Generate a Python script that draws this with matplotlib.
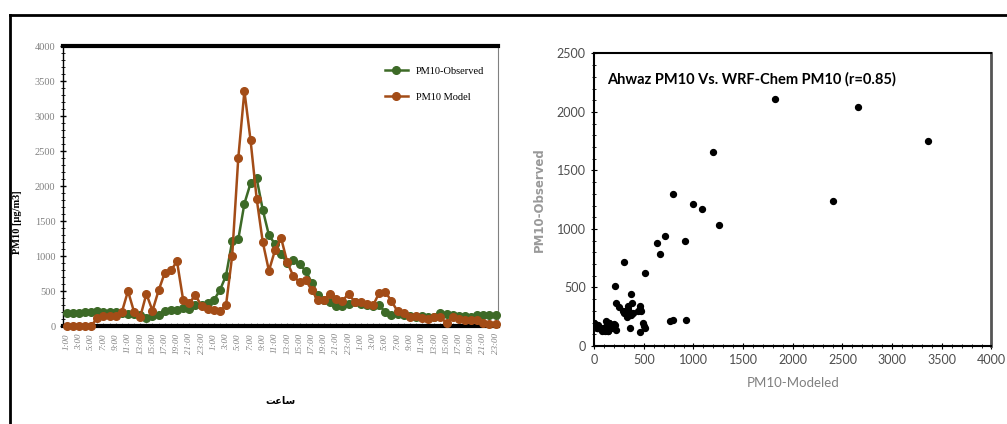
import numpy as np
import matplotlib
matplotlib.use('Agg')
import matplotlib.pyplot as plt
from matplotlib.lines import Line2D
from matplotlib.ticker import MultipleLocator

# Datos horarios (3 dias)
horas = ['1:00', '3:00', '5:00', '7:00', '9:00', '11:00', '13:00', '15:00',
         '17:00', '19:00', '21:00', '23:00'] * 3

pm10_modelo = [0, 0, 0, 0, 0, 120, 140, 150, 150, 200,
               500, 200, 130, 460, 220, 510, 760, 795, 925, 375,
               330, 440, 290, 250, 225, 215, 297, 1000, 2400, 3360,
               2660, 1820, 1200, 790, 1085, 1255, 910, 710, 631, 660,
               511, 368, 378, 464, 392, 358, 464, 344, 344, 320,
               296, 473, 488, 358, 210, 180, 129, 139, 120, 105,
               135, 129, 40, 129, 105, 91, 81, 91, 43, 33, 33]

pm10_observado = [186, 186, 186, 200, 200, 210, 200, 200, 200, 186,
                  167, 167, 152, 119, 138, 152, 214, 224, 224, 262,
                  250, 295, 300, 335, 368, 512, 720, 1210, 1240, 1750,
                  2040, 2110, 1660, 1300, 1170, 1035, 895, 940, 880, 790,
                  620, 440, 368, 344, 282, 282, 320, 344, 320, 296,
                  282, 296, 200, 153, 177, 153, 139, 129, 139, 129,
                  129, 186, 177, 153, 139, 139, 129, 153, 153, 153, 153]

verde = '#3d6a27'
naranja = '#a34c17'
gris = '#808080'
fuente = ['Lato', 'DejaVu Sans']

fig = plt.figure(figsize=(10.07, 4.24), dpi=100)

# marco exterior
fig.add_artist(Line2D([0.0099, 1.0], [0.965, 0.965], color='black', lw=2))
fig.add_artist(Line2D([0.0099, 0.0099], [0.0, 0.965], color='black', lw=2))

# ---------------- Serie temporal ----------------
ax1 = fig.add_axes([0.0626, 0.231, 0.432, 0.660])
x = np.arange(len(pm10_modelo))
ax1.plot(x, pm10_observado, '-o', color=verde, lw=1.8, ms=5.5, label='PM10-Observed',
         clip_on=False, zorder=3)
ax1.plot(x, pm10_modelo, '-o', color=naranja, lw=1.8, ms=5.5, label='PM10 Model',
         clip_on=False, zorder=4)
ax1.set_xlim(-0.6, 70.4)
ax1.set_ylim(0, 4000)
ax1.yaxis.set_major_locator(MultipleLocator(500))
ax1.yaxis.set_minor_locator(MultipleLocator(100))
ax1.set_xticks(x[::2])
ax1.set_xticklabels(horas, rotation=90, fontsize=6.5, color=gris,
                    family='Liberation Serif', style='italic')
ax1.xaxis.set_minor_locator(MultipleLocator(1))
for lbl in ax1.get_yticklabels():
    lbl.set_family('Liberation Serif')
ax1.tick_params(axis='y', labelsize=7.5, colors=gris, labelcolor=gris, direction='inout',
                length=4, width=1, color='black')
ax1.tick_params(axis='y', which='minor', direction='inout', length=3, color='black')
ax1.tick_params(axis='x', which='both', direction='in', length=2, color=gris, pad=5)
ax1.spines['top'].set_linewidth(3)
ax1.spines['bottom'].set_linewidth(3)
ax1.spines['left'].set_linewidth(1)
ax1.spines['right'].set_color(gris)
ax1.set_ylabel('PM10 [µg/m3]', family='Liberation Serif', fontweight='bold', fontsize=7.5)
ax1.yaxis.set_label_coords(-0.094, 0.37)
ax1.set_xlabel('\ufe96\ufecb\ufe8e\ufeb3', family=['DejaVu Sans'], fontweight='bold',
               fontsize=7, labelpad=30)
ax1.legend(loc='upper right', bbox_to_anchor=(0.99, 0.96), frameon=False,
           prop={'family': 'Liberation Serif', 'size': 7.5}, handlelength=2.2,
           labelspacing=1.6)

# ---------------- Dispersion ----------------
ax2 = fig.add_axes([0.590, 0.184, 0.3946, 0.690])
ax2.scatter(pm10_modelo, pm10_observado, s=18, color='black', zorder=3)
ax2.set_xlim(0, 4000)
ax2.set_ylim(0, 2500)
ax2.xaxis.set_major_locator(MultipleLocator(500))
ax2.xaxis.set_minor_locator(MultipleLocator(100))
ax2.yaxis.set_major_locator(MultipleLocator(500))
ax2.yaxis.set_minor_locator(MultipleLocator(100))
ax2.tick_params(which='both', direction='inout', colors='black', labelcolor='#4d4d4d',
                labelsize=9)
ax2.tick_params(which='major', length=5)
ax2.tick_params(which='minor', length=3)
for lbl in ax2.get_xticklabels() + ax2.get_yticklabels():
    lbl.set_family(fuente)
for s in ['top', 'bottom', 'left']:
    ax2.spines[s].set_linewidth(1.5)
ax2.spines['right'].set_color('#555555')
ax2.spines['right'].set_linewidth(2)
ax2.set_xlabel('PM10-Modeled', color=gris, fontsize=9.5, family=fuente, labelpad=8)
ax2.set_ylabel('PM10-Observed', color='#999999', fontsize=8.5, fontweight='bold',
               family='DejaVu Sans', labelpad=8)
ax2.text(0.033, 0.935, 'Ahwaz PM10 Vs. WRF-Chem PM10 (r=0.85)', transform=ax2.transAxes,
         fontsize=10.5, fontweight='bold', va='top', family=fuente)

plt.savefig('out.png', dpi=100)
